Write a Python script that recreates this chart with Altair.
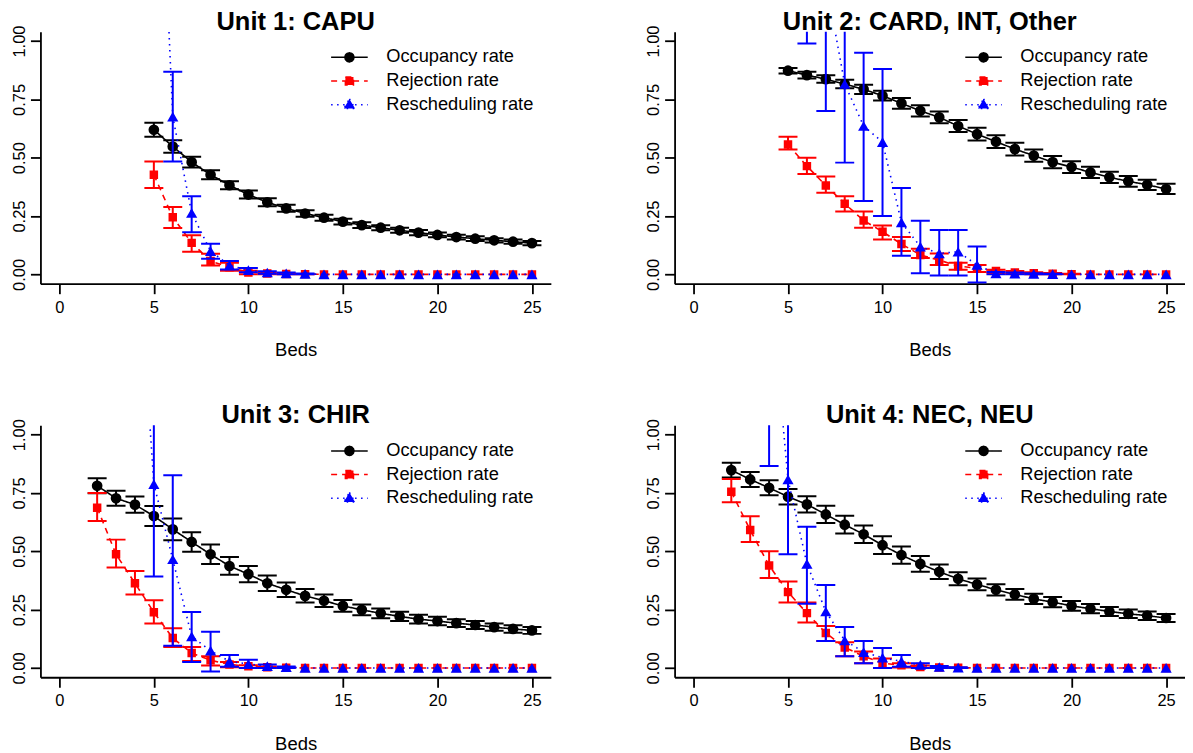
import altair as alt
import pandas as pd

FONT = "Liberation Sans"
SERIES = ["Occupancy rate", "Rejection rate", "Rescheduling rate"]
COLORS = ["#000000", "#ff0000", "#0000ff"]
DASHES = [[1, 0], [6, 5], [1.5, 4.5]]
SHAPES = ["circle", "square", "triangle-up"]
SIZES = [115, 72, 125]
LEGEND_PATHS = [
    "M-2.62,0H2.62M0.66,0L0.57,0.33L0.33,0.57L0,0.66L-0.33,0.57L-0.57,0.33L-0.66,0L-0.57,-0.33L-0.33,-0.57L0,-0.66L0.33,-0.57L0.57,-0.33Z",
    "M-2.62,0H2.62M-0.58,-0.58H0.58V0.58H-0.58Z",
    "M-2.62,0H2.62M0,-0.82L0.8,0.56H-0.8Z",
]
TITLES = ["Unit 1: CAPU", "Unit 2: CARD, INT, Other", "Unit 3: CHIR", "Unit 4: NEC, NEU"]
X_TICKS = [0, 5, 10, 15, 20, 25]
Y_TICKS = [0, 0.25, 0.5, 0.75, 1.0]

# ---------------- Unit 1 ----------------
beds1 = list(range(5, 26))
occ1 = [0.620, 0.548, 0.481, 0.427, 0.382, 0.342, 0.309, 0.283, 0.261, 0.243, 0.226,
        0.211, 0.200, 0.189, 0.179, 0.169, 0.160, 0.153, 0.146, 0.140, 0.134]
occ1_err = [0.030, 0.027, 0.023, 0.019, 0.017, 0.017, 0.017, 0.015, 0.014, 0.013, 0.012,
            0.012, 0.011, 0.011, 0.011, 0.010, 0.010, 0.010, 0.009, 0.009, 0.009]
rej1 = [0.427, 0.245, 0.135, 0.057, 0.030, 0.008, 0.004, 0.002, 0.001]
rej1_lo = [0.370, 0.199, 0.097, 0.038, 0.015, 0.001, 0.0, 0.0, 0.0]
rej1_hi = [0.484, 0.289, 0.168, 0.088, 0.050, 0.016, 0.008, 0.005, 0.002]
res1 = [2.5, 0.676, 0.263, 0.100, 0.038, 0.018, 0.008, 0.004, 0.002]
res1_lo = [1.6, 0.484, 0.181, 0.067, 0.021, 0.009, 0.003, 0.0, 0.0]
res1_hi = [3.4, 0.869, 0.335, 0.131, 0.057, 0.027, 0.013, 0.008, 0.004]

# ---------------- Unit 2 ----------------
beds2 = list(range(5, 26))
occ2 = [0.873, 0.854, 0.837, 0.816, 0.793, 0.766, 0.733, 0.701, 0.673, 0.636, 0.601,
        0.569, 0.537, 0.509, 0.481, 0.460, 0.437, 0.416, 0.399, 0.384, 0.366]
occ2_err = [0.012, 0.014, 0.016, 0.018, 0.020, 0.021, 0.023, 0.024, 0.025, 0.026, 0.027,
            0.027, 0.027, 0.026, 0.026, 0.025, 0.024, 0.024, 0.023, 0.022, 0.022]
rej2 = [0.557, 0.464, 0.381, 0.303, 0.231, 0.183, 0.130, 0.083, 0.061, 0.036, 0.026,
        0.014, 0.008, 0.005, 0.003, 0.001]
rej2_lo = [0.535, 0.430, 0.350, 0.270, 0.200, 0.150, 0.100, 0.070, 0.040, 0.020, 0.010,
           0.005, 0.002, 0.001, 0.0, 0.0]
rej2_hi = [0.590, 0.500, 0.420, 0.335, 0.270, 0.210, 0.160, 0.110, 0.090, 0.050, 0.040,
           0.020, 0.014, 0.009, 0.006, 0.003]
res2 = [1.9, 1.5, 1.26, 0.816, 0.636, 0.567, 0.223, 0.119, 0.090, 0.097, 0.040,
        0.004, 0.003, 0.002, 0.001]
res2_lo = [1.3, 0.99, 0.70, 0.479, 0.315, 0.25, 0.08, 0.005, -0.005, -0.005, -0.035,
           0.0, 0.0, 0.0, 0.0]
res2_hi = [2.5, 2.0, 1.82, 1.15, 0.95, 0.88, 0.37, 0.23, 0.19, 0.19, 0.12,
           0.01, 0.008, 0.005, 0.003]

# ---------------- Unit 3 ----------------
beds3 = list(range(2, 26))
occ3 = [0.781, 0.727, 0.700, 0.651, 0.594, 0.540, 0.487, 0.437, 0.402, 0.363, 0.335, 0.309,
        0.288, 0.266, 0.249, 0.234, 0.221, 0.209, 0.201, 0.192, 0.184, 0.175, 0.167, 0.161]
occ3_err = [0.032, 0.032, 0.035, 0.043, 0.047, 0.042, 0.042, 0.038, 0.035, 0.033, 0.031, 0.029,
            0.027, 0.025, 0.023, 0.021, 0.020, 0.019, 0.018, 0.017, 0.017, 0.016, 0.016, 0.015]
rej3 = [0.687, 0.487, 0.363, 0.239, 0.128, 0.064, 0.033, 0.015, 0.007, 0.003, 0.001]
rej3_lo = [0.630, 0.430, 0.315, 0.190, 0.090, 0.030, 0.010, 0.003, 0.0, 0.0, 0.0]
rej3_hi = [0.750, 0.550, 0.415, 0.290, 0.170, 0.090, 0.050, 0.025, 0.012, 0.006, 0.003]
res3 = [3.5, 3.0, 2.0, 0.788, 0.466, 0.135, 0.074, 0.028, 0.017, 0.008, 0.003]
res3_lo = [2.5, 2.0, 1.2, 0.392, 0.095, 0.025, -0.015, 0.005, 0.0, 0.0, 0.0]
res3_hi = [4.5, 4.0, 2.8, 1.19, 0.826, 0.240, 0.155, 0.055, 0.035, 0.015, 0.006]

# ---------------- Unit 4 ----------------
beds4 = list(range(2, 26))
occ4 = [0.848, 0.808, 0.772, 0.734, 0.701, 0.658, 0.614, 0.573, 0.526, 0.484, 0.446, 0.412,
        0.382, 0.358, 0.335, 0.315, 0.296, 0.282, 0.266, 0.254, 0.242, 0.232, 0.224, 0.214]
occ4_err = [0.032, 0.032, 0.032, 0.033, 0.035, 0.037, 0.038, 0.038, 0.038, 0.037, 0.034, 0.031,
            0.028, 0.025, 0.024, 0.023, 0.022, 0.022, 0.021, 0.020, 0.019, 0.018, 0.018, 0.017]
rej4 = [0.755, 0.591, 0.439, 0.325, 0.235, 0.150, 0.088, 0.050, 0.021, 0.011, 0.004, 0.002, 0.001]
rej4_lo = [0.710, 0.540, 0.385, 0.280, 0.195, 0.115, 0.050, 0.020, 0.0, 0.002, 0.0, 0.0, 0.0]
rej4_hi = [0.810, 0.650, 0.500, 0.370, 0.280, 0.180, 0.110, 0.070, 0.040, 0.020, 0.010, 0.005, 0.002]
res4 = [3.0, 2.4, 1.7, 0.808, 0.446, 0.242, 0.118, 0.068, 0.044, 0.028, 0.013, 0.004, 0.001]
res4_lo = [2.0, 1.6, 0.866, 0.487, 0.275, 0.115, 0.050, 0.020, 0.0, 0.005, 0.0, 0.0, 0.0]
res4_hi = [4.0, 3.2, 2.5, 1.13, 0.605, 0.355, 0.175, 0.115, 0.085, 0.055, 0.020, 0.008, 0.003]

PANELS = [
    (beds1, occ1, occ1_err, rej1, rej1_lo, rej1_hi, res1, res1_lo, res1_hi),
    (beds2, occ2, occ2_err, rej2, rej2_lo, rej2_hi, res2, res2_lo, res2_hi),
    (beds3, occ3, occ3_err, rej3, rej3_lo, rej3_hi, res3, res3_lo, res3_hi),
    (beds4, occ4, occ4_err, rej4, rej4_lo, rej4_hi, res4, res4_lo, res4_hi),
]


def pad(v, n):
    # values not listed are read as 0 in the picture
    return list(v) + [0.0] * (n - len(v))


rows = []
for k, (beds, occ, oerr, rej, rlo, rhi, res, slo, shi) in enumerate(PANELS):
    n = len(beds)
    rej, rlo, rhi = pad(rej, n), pad(rlo, n), pad(rhi, n)
    res, slo, shi = pad(res, n), pad(slo, n), pad(shi, n)
    for i, b in enumerate(beds):
        rows.append(dict(panel=k, beds=b, series=SERIES[0], value=occ[i],
                         lo=occ[i] - oerr[i], hi=occ[i] + oerr[i]))
        rows.append(dict(panel=k, beds=b, series=SERIES[1], value=rej[i], lo=rlo[i], hi=rhi[i]))
        rows.append(dict(panel=k, beds=b, series=SERIES[2], value=res[i], lo=slo[i], hi=shi[i]))
df = pd.DataFrame(rows)

W, H = 511.5, 252.5


def xenc():
    return alt.X("beds:Q", scale=alt.Scale(domain=[-1, 26], nice=False, zero=False),
                 axis=alt.Axis(values=X_TICKS, title="Beds", format="d"))


def yenc(field):
    ax = alt.Axis(values=Y_TICKS, format=".2f", title=None, labelAngle=-90,
                  labelAlign="center", labelBaseline="middle", labelPadding=10.8)
    return alt.Y(f"{field}:Q", scale=alt.Scale(domain=[-0.04, 1.04], nice=False, zero=False),
                 axis=ax)


def panel(k):
    base = alt.Chart(df[df.panel == k])
    layers = []
    for s, c, dash, shp, sz in zip(SERIES, COLORS, DASHES, SHAPES, SIZES):
        sub = base.transform_filter(alt.datum.series == s)
        layers.append(sub.mark_line(color=c, strokeWidth=1.6, strokeDash=dash, clip=True)
                      .encode(x=xenc(), y=yenc("value")))
        layers.append(sub.mark_rule(color=c, strokeWidth=2, clip=True)
                      .encode(x=xenc(), y=yenc("lo"), y2=alt.Y2("hi:Q")))
        caps = sub.transform_filter("datum.hi - datum.lo > 0.0015")
        for f in ("lo", "hi"):
            layers.append(caps.mark_tick(color=c, thickness=2, size=19, orient="horizontal",
                                         opacity=1, clip=True)
                          .encode(x=xenc(), y=yenc(f)))
        layers.append(sub.mark_point(shape=shp, filled=True, size=sz, color=c, opacity=1,
                                     strokeWidth=0, clip=True)
                      .encode(x=xenc(), y=yenc("value")))
    leg = alt.Legend(title=None)
    legend_layer = base.transform_filter("false").mark_point(
        filled=True, opacity=1, clip=True).encode(
        x=xenc(), y=yenc("value"),
        shape=alt.Shape("series:N", scale=alt.Scale(domain=SERIES, range=LEGEND_PATHS), legend=leg),
        fill=alt.Fill("series:N", scale=alt.Scale(domain=SERIES, range=COLORS), legend=leg),
        stroke=alt.Stroke("series:N", scale=alt.Scale(domain=SERIES, range=COLORS), legend=leg),
        strokeDash=alt.StrokeDash("series:N", scale=alt.Scale(domain=SERIES, range=DASHES), legend=leg),
    )
    layers.append(legend_layer)
    return alt.layer(*layers).properties(
        width=W, height=H,
        title=alt.TitleParams(TITLES[k], font=FONT, fontSize=25.5, fontWeight="bold",
                              color="black", anchor="middle", frame="group", offset=-10),
    )


RS = dict(x="independent", y="independent", shape="independent", fill="independent",
          stroke="independent", strokeDash="independent")
RL = dict(shape="independent", fill="independent", stroke="independent", strokeDash="independent")

row1 = alt.hconcat(panel(0), panel(1), spacing=94.5).resolve_scale(**RS).resolve_legend(**RL)
row2 = alt.hconcat(panel(2), panel(3), spacing=94.5).resolve_scale(**RS).resolve_legend(**RL)
chart = alt.vconcat(row1, row2, spacing=43.4).resolve_scale(**RS).resolve_legend(**RL)

chart = chart.properties(
    padding={"left": 3.5, "top": 0, "right": 0, "bottom": 0},
    background="white",
).configure_view(stroke=None).configure_axis(
    domainColor="black", domainWidth=1.8, tickColor="black", tickWidth=1.8, tickSize=10,
    labelFont=FONT, labelFontSize=16.5, labelColor="black",
    titleFont=FONT, titleFontSize=18.5, titleFontWeight="normal", titleColor="black",
    grid=False,
).configure_axisX(
    labelPadding=5.5, titlePadding=25,
).configure_legend(
    orient="none", legendX=300.5, legendY=16.5, padding=0,
    labelFont=FONT, labelFontSize=18.3, labelColor="black", labelLimit=400,
    symbolSize=196, symbolStrokeWidth=1.5, labelOffset=27.7, rowPadding=4.7,
)

chart.save("out.html", embed_options={"renderer": "svg", "actions": False})
